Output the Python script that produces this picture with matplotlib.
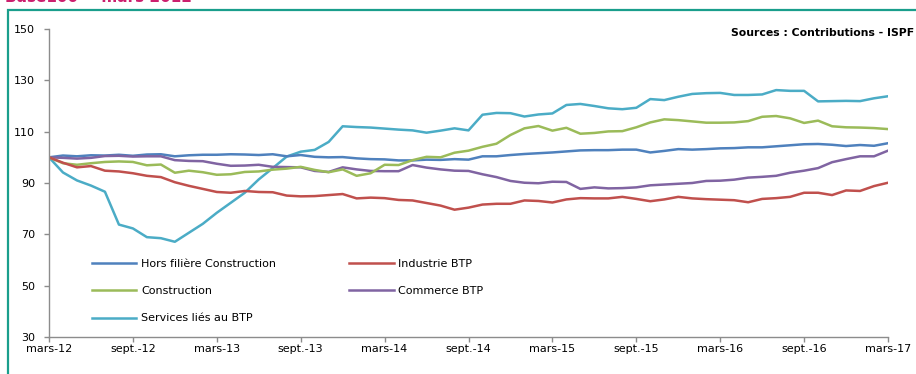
import matplotlib
matplotlib.use("Agg")
import matplotlib.pyplot as plt
from matplotlib.patches import Rectangle
import numpy as np

# Monthly indices, base 100 = March 2012 (61 months: mars-12 .. mars-17)
months = np.arange(61)

hors_filiere = [100, 100.7, 100.4, 100.8, 100.7, 101, 100.6, 101.1, 101.2, 100.4,
                100.8, 101, 101, 101.2, 101.1, 100.9, 101.2, 100.4, 100.9, 100.2,
                100, 100.1, 99.6, 99.3, 99.2, 98.8, 98.8, 99.1, 99, 99.3,
                99.1, 100.4, 100.4, 100.9, 101.3, 101.6, 101.9, 102.3, 102.7, 102.8,
                102.8, 103, 103, 101.9, 102.5, 103.2, 103, 103.2, 103.5, 103.6,
                103.9, 103.9, 104.3, 104.7, 105.1, 105.2, 104.9, 104.4, 104.8, 104.5,
                105.5]

industrie = [100, 97.9, 96.1, 96.6, 94.8, 94.5, 93.8, 92.8, 92.3, 90.3,
             88.9, 87.7, 86.5, 86.2, 86.9, 86.5, 86.4, 85.1, 84.8, 84.9,
             85.3, 85.7, 84, 84.3, 84.1, 83.4, 83.2, 82.2, 81.2, 79.6,
             80.4, 81.6, 81.9, 81.9, 83.2, 83, 82.4, 83.6, 84.1, 84,
             84, 84.6, 83.8, 82.9, 83.6, 84.6, 84, 83.7, 83.5, 83.3,
             82.5, 83.8, 84.1, 84.6, 86.2, 86.2, 85.3, 87.1, 86.9, 88.8,
             90.1]

construction = [100, 97.7, 97.1, 97.7, 98.2, 98.4, 98.2, 96.9, 97.2, 94,
                94.8, 94.2, 93.2, 93.4, 94.3, 94.5, 95.2, 95.6, 96.3, 95.1,
                94.2, 95.3, 92.8, 93.8, 97.1, 97, 98.9, 100.2, 100, 101.8,
                102.6, 104.1, 105.3, 108.7, 111.3, 112.2, 110.4, 111.5, 109.2, 109.5,
                110.1, 110.2, 111.7, 113.6, 114.8, 114.5, 114, 113.5, 113.5, 113.6,
                114.1, 115.8, 116.1, 115.2, 113.4, 114.3, 112.1, 111.7, 111.6, 111.4,
                111]

commerce = [100, 99.8, 99.5, 99.8, 100.5, 100.6, 100.3, 100.4, 100.4, 98.9,
            98.6, 98.5, 97.5, 96.7, 96.8, 97.1, 96.3, 96.2, 96.1, 94.7,
            94.3, 96.1, 95.3, 94.7, 94.6, 94.6, 97, 96, 95.3, 94.8,
            94.7, 93.4, 92.3, 90.8, 90.1, 89.9, 90.5, 90.4, 87.7, 88.3,
            87.9, 88, 88.3, 89.1, 89.4, 89.7, 90, 90.8, 90.9, 91.3,
            92.1, 92.4, 92.8, 94, 94.8, 95.8, 98.1, 99.3, 100.4, 100.4,
            102.6]

services = [100, 94.1, 91, 89, 86.6, 73.8, 72.3, 68.9, 68.5, 67.1,
            70.6, 74.1, 78.4, 82.3, 86.2, 91.4, 95.8, 100.3, 102.2, 102.9,
            106, 112.1, 111.8, 111.6, 111.2, 110.8, 110.5, 109.6, 110.4, 111.3,
            110.5, 116.6, 117.3, 117.2, 115.9, 116.7, 117.1, 120.4, 120.8, 120,
            119.1, 118.75, 119.3, 122.7, 122.3, 123.6, 124.7, 125, 125.1, 124.3,
            124.3, 124.5, 126.2, 125.9, 125.9, 121.8, 121.9, 122, 121.9, 123,
            123.8]

tick_months = list(range(0, 61, 6))
tick_labels = ["mars-12", "sept.-12", "mars-13", "sept.-13", "mars-14", "sept.-14",
               "mars-15", "sept.-15", "mars-16", "sept.-16", "mars-17"]
y_ticks = [30, 50, 70, 90, 110, 130, 150]

W, H = 916, 374
fig = plt.figure(figsize=(W / 100, H / 100), dpi=100)
fig.patch.set_facecolor("white")

# Teal frame around the chart block
fig.add_artist(Rectangle((8 / W, -0.05), 1.0, 1 - 10 / H + 0.05,
                         transform=fig.transFigure, fill=False,
                         edgecolor="#1a9e8c", linewidth=1.6, zorder=0))

# Title, partly above the top edge of the canvas
fig.text(5 / W, 1 - 2.0 / H, "Base100 = mars 2012", color="#cc1f6e",
         fontsize=11, fontweight="bold", ha="left", va="baseline")

ax = fig.add_axes([49 / W, 1 - 337 / H, (888 - 49) / W, (337 - 29) / H])

series = [
    ("Hors filière Construction", hors_filiere, "#4F81BD"),
    ("Construction", construction, "#9BBB59"),
    ("Services liés au BTP", services, "#4BACC6"),
    ("Industrie BTP", industrie, "#C0504D"),
    ("Commerce BTP", commerce, "#8064A2"),
]
draw_order = [2, 0, 4, 1, 3]
lines = {}
for i in draw_order:
    name, vals, col = series[i]
    lines[i], = ax.plot(months, vals, color=col, linewidth=1.8,
                        solid_joinstyle="round", label=name)

ax.set_xlim(0, 60)
ax.set_ylim(30, 150)
ax.set_xticks(tick_months)
ax.set_xticklabels(tick_labels)
ax.set_yticks(y_ticks)

for s in ["top", "right"]:
    ax.spines[s].set_visible(False)
for s in ["left", "bottom"]:
    ax.spines[s].set_color("#8c8c8c")
    ax.spines[s].set_linewidth(1.0)

ax.tick_params(axis="both", colors="#8c8c8c", labelcolor="black",
               labelsize=8, length=3.5, width=1.0, direction="out")
ax.tick_params(axis="y", pad=6.5)
ax.tick_params(axis="x", pad=1.5)

ax.text(1.0 + 26 / (888 - 49), 1 - 4 / (337 - 29), "Sources : Contributions - ISPF",
        transform=ax.transAxes, ha="right", va="center",
        fontsize=7.8, fontweight="bold")

handles = [lines[i] for i in range(5)]
labels = [series[i][0] for i in range(5)]
ax.legend(handles, labels, ncol=2, frameon=False, fontsize=8,
          loc="upper left", bbox_to_anchor=(92 / W, 1 - 259 / H),
          bbox_transform=fig.transFigure, borderpad=0, borderaxespad=0,
          handlelength=4.0, handletextpad=0.4, columnspacing=6.6,
          labelspacing=1.55)

fig.savefig("out.png", dpi=100, facecolor="white")
